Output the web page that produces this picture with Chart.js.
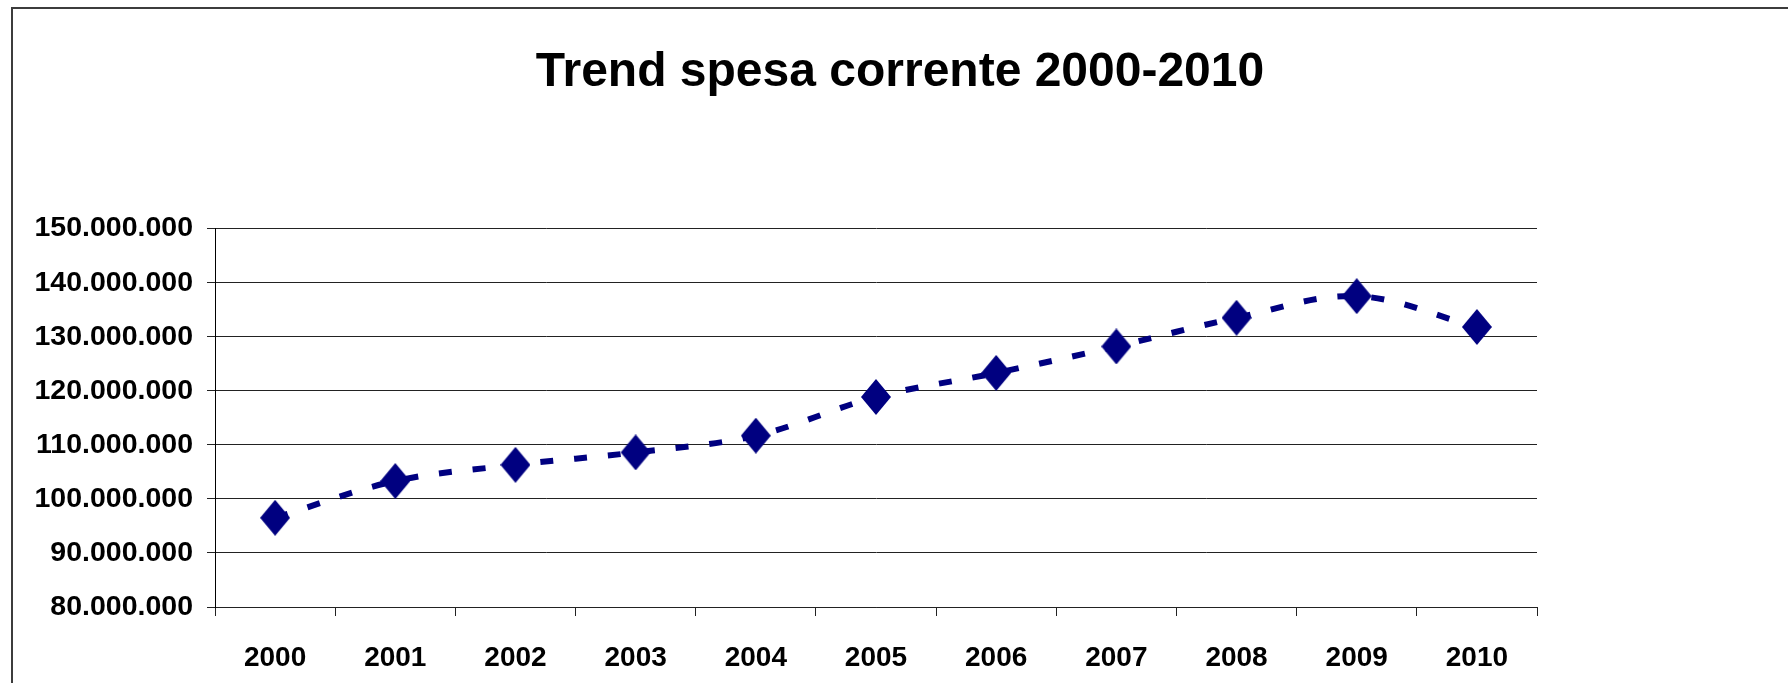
<!DOCTYPE html>
<html>
<head>
<meta charset="utf-8">
<script src="https://cdn.jsdelivr.net/npm/chart.js@4.4.1/dist/chart.umd.min.js"></script>
<style>
  html, body { margin: 0; padding: 0; background: #fff; overflow: hidden; }
  #wrap { width: 1788px; height: 683px; position: relative; }
</style>
</head>
<body>
<div id="wrap"><canvas id="c" width="1788" height="683"></canvas></div>
<script>
// ---- data ----
const categories = ['2000', '2001', '2002', '2003', '2004', '2005', '2006', '2007', '2008', '2009', '2010'];
const spesaCorrente = [96500000, 103300000, 106300000, 108600000, 111700000, 118850000, 123300000, 128200000, 133500000, 137500000, 131800000];
const yTickValues = [80000000, 90000000, 100000000, 110000000, 120000000, 130000000, 140000000, 150000000];
const yTickLabels = ['80.000.000', '90.000.000', '100.000.000', '110.000.000', '120.000.000', '130.000.000', '140.000.000', '150.000.000'];
const chartTitle = 'Trend spesa corrente 2000-2010';

// diamond marker
function makeDiamond(w, h, color) {
  const cv = document.createElement('canvas');
  cv.width = w; cv.height = h;
  const g = cv.getContext('2d');
  g.fillStyle = color;
  g.beginPath();
  g.moveTo(w / 2, 0);
  g.lineTo(w, h / 2);
  g.lineTo(w / 2, h);
  g.lineTo(0, h / 2);
  g.closePath();
  g.fill();
  return cv;
}
const diamond = makeDiamond(30, 36, '#000080');

const frame = {
  id: 'frame',
  beforeDraw(chart) {
    const ctx = chart.ctx;
    ctx.save();
    ctx.fillStyle = '#ffffff';
    ctx.fillRect(0, 0, chart.width, chart.height);
    ctx.strokeStyle = '#3c3c3c';
    ctx.lineWidth = 2;
    ctx.strokeRect(12, 8, chart.width + 50, chart.height + 50);
    ctx.restore();
  }
};

const SANS = '"Liberation Sans", Arial, sans-serif';

new Chart(document.getElementById('c'), {
  type: 'line',
  data: {
    labels: categories,
    datasets: [{
      label: 'Spesa corrente',
      data: spesaCorrente,
      borderColor: '#000080',
      backgroundColor: '#000080',
      borderWidth: 6,
      borderDash: [13, 21],
      borderCapStyle: 'butt',
      tension: 0.35,
      pointStyle: diamond,
      pointRadius: 15,
      pointHoverRadius: 15,
      fill: false,
      clip: false
    }]
  },
  options: {
    responsive: false,
    animation: false,
    devicePixelRatio: 1,
    layout: { padding: { left: 12, right: 0, top: 0, bottom: 0 } },
    plugins: {
      legend: { display: false },
      tooltip: { enabled: false },
      title: {
        display: true,
        text: chartTitle,
        color: '#000',
        font: { family: SANS, size: 48, weight: 'bold', lineHeight: 1.2 },
        padding: { top: 44, bottom: 127 }
      }
    },
    scales: {
      x: {
        type: 'category',
        offset: true,
        grid: { display: true, drawOnChartArea: false, drawTicks: true, tickLength: 9, color: '#222', offset: true },
        border: { display: true, color: '#222', width: 1 },
        ticks: { color: '#000', padding: 25, font: { family: SANS, size: 28, weight: 'bold' }, maxRotation: 0, autoSkip: false },
        afterFit(s) { s.height = 76; }
      },
      y: {
        type: 'linear',
        min: 80000000,
        max: 150000000,
        grid: { color: '#222', lineWidth: 1, tickLength: 8 },
        border: { display: true, color: '#000', width: 1 },
        ticks: {
          stepSize: 10000000,
          color: '#000',
          padding: 14,
          font: { family: SANS, size: 28.5, weight: 'bold' },
          callback(v) { const i = yTickValues.indexOf(v); return i >= 0 ? yTickLabels[i] : ''; }
        },
        afterFit(s) { s.width = 203; }
      },
      yPad: {
        type: 'linear',
        position: 'right',
        display: true,
        grid: { display: false, drawTicks: false },
        border: { display: false },
        ticks: { display: false },
        afterFit(s) { s.width = 251; }
      }
    }
  },
  plugins: [frame]
});
</script>
</body>
</html>
